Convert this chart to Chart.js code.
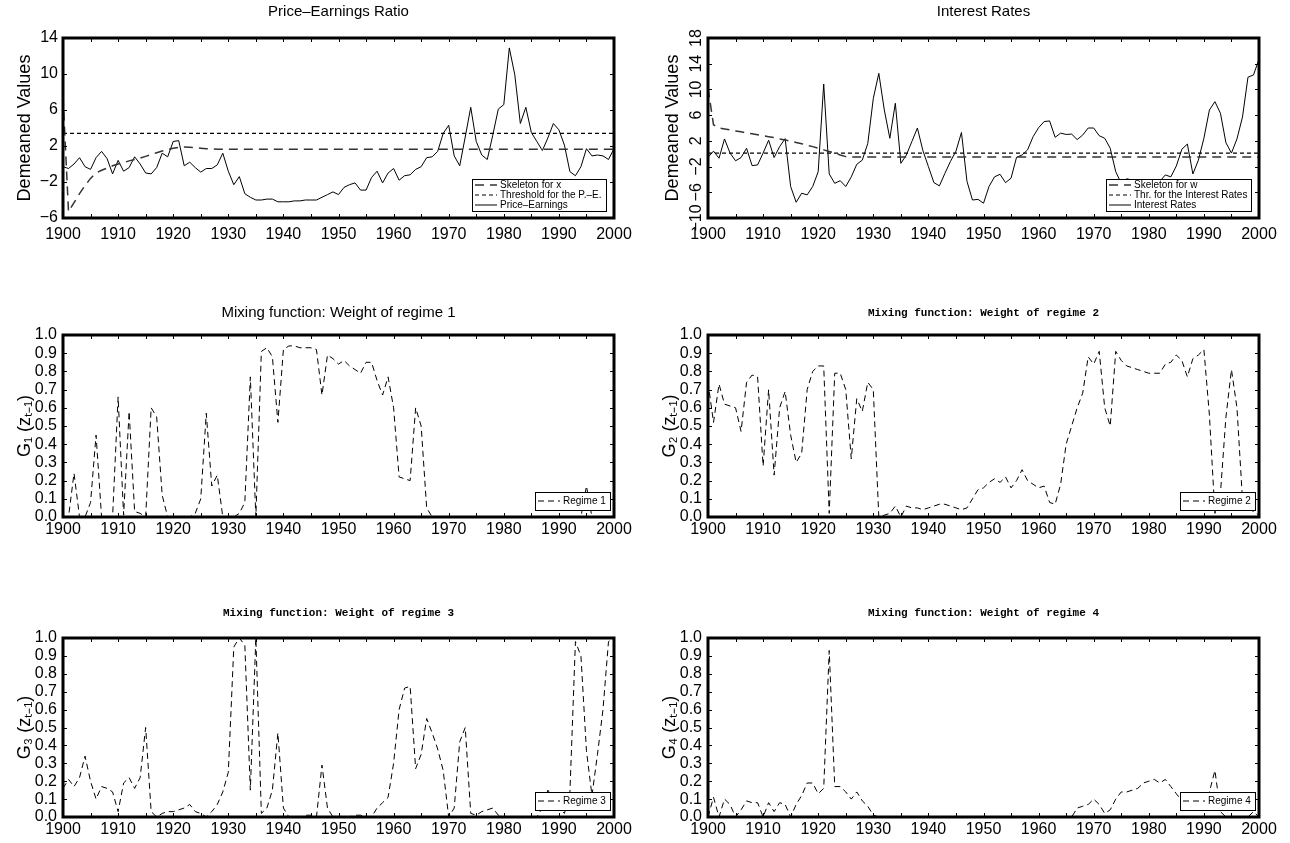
<!DOCTYPE html>
<html><head><meta charset="utf-8">
<script src="https://cdn.jsdelivr.net/npm/chart.js@4.4.0/dist/chart.umd.min.js"></script>
<style>
html,body{margin:0;padding:0;background:#fff;}
body{width:1290px;height:843px;position:relative;overflow:hidden;}
canvas{position:absolute;}
</style></head><body>
<canvas id="c1" width="645" height="260" style="left:0;top:0"></canvas>
<canvas id="c2" width="645" height="260" style="left:645px;top:0"></canvas>
<canvas id="c3" width="645" height="260" style="left:0;top:290px"></canvas>
<canvas id="c4" width="645" height="260" style="left:645px;top:290px"></canvas>
<canvas id="c5" width="645" height="253" style="left:0;top:590px"></canvas>
<canvas id="c6" width="645" height="253" style="left:645px;top:590px"></canvas>
<script>
// ---------- DATA ----------
const YEARS = [
1900,1901,1902,1903,1904,1905,1906,1907,1908,1909,
1910,1911,1912,1913,1914,1915,1916,1917,1918,1919,
1920,1921,1922,1923,1924,1925,1926,1927,1928,1929,
1930,1931,1932,1933,1934,1935,1936,1937,1938,1939,
1940,1941,1942,1943,1944,1945,1946,1947,1948,1949,
1950,1951,1952,1953,1954,1955,1956,1957,1958,1959,
1960,1961,1962,1963,1964,1965,1966,1967,1968,1969,
1970,1971,1972,1973,1974,1975,1976,1977,1978,1979,
1980,1981,1982,1983,1984,1985,1986,1987,1988,1989,
1990,1991,1992,1993,1994,1995,1996,1997,1998,1999,
2000];
const X_TICKS = [1900,1910,1920,1930,1940,1950,1960,1970,1980,1990,2000];

const PE = [
-0.3,-0.5,0.0,0.7,-0.3,-0.6,0.7,1.4,0.6,-1.1,
0.4,-0.8,-0.4,0.8,0.0,-1.0,-1.1,-0.4,1.2,0.8,
2.5,2.6,-0.2,0.2,-0.4,-0.9,-0.5,-0.5,-0.1,1.2,
-0.8,-2.3,-1.4,-3.3,-3.7,-4.0,-4.0,-3.9,-3.9,-4.2,
-4.2,-4.2,-4.1,-4.1,-4.0,-4.0,-4.0,-3.7,-3.4,-3.1,
-3.4,-2.6,-2.3,-2.1,-2.9,-2.9,-1.5,-0.8,-2.1,-1.0,
-0.5,-1.8,-1.3,-1.2,-0.6,-0.3,0.7,0.8,1.4,3.4,
4.3,0.9,-0.2,3.0,6.3,2.5,1.0,0.5,3.2,6.1,
6.6,12.9,9.9,4.5,6.3,3.5,2.5,1.5,2.9,4.5,
3.8,2.1,-0.85,-1.3,-0.3,1.7,0.9,1.0,0.9,0.5,
1.7];
const PE_SKELETON = [
7.5,-5.3,-4.3,-3.3,-2.4,-1.6,-1.0,-0.7,-0.45,-0.2,
0.0,0.15,0.35,0.5,0.65,0.85,1.05,1.25,1.45,1.6,
1.75,1.85,1.9,1.85,1.8,1.75,1.7,1.68,1.65,1.65,
1.65,1.65,1.65,1.65,1.65,1.65,1.65,1.65,1.65,1.65,
1.65,1.65,1.65,1.65,1.65,1.65,1.65,1.65,1.65,1.65,
1.65,1.65,1.65,1.65,1.65,1.65,1.65,1.65,1.65,1.65,
1.65,1.65,1.65,1.65,1.65,1.65,1.65,1.65,1.65,1.65,
1.65,1.65,1.65,1.65,1.65,1.65,1.65,1.65,1.65,1.65,
1.65,1.65,1.65,1.65,1.65,1.65,1.65,1.65,1.65,1.65,
1.65,1.65,1.65,1.65,1.65,1.65,1.65,1.65,1.65,1.65,
1.65];
const PE_THRESHOLD = 3.4;

const IR = [
-0.55,0.4,-0.7,2.3,0.1,-1.1,-0.6,0.85,-1.85,-1.75,
0.1,2.1,-0.6,1.1,2.35,-5.1,-7.55,-6.15,-6.4,-5.1,
-2.8,10.85,-3.15,-4.6,-4.2,-5.1,-3.6,-1.65,-1.0,1.6,
8.6,12.5,6.8,2.4,7.85,-1.5,-0.2,1.9,4.0,0.5,
-2.0,-4.5,-5.0,-3.05,-1.2,0.4,3.3,-4.3,-7.2,-7.1,
-7.7,-5.1,-3.6,-3.2,-4.5,-3.8,-0.55,-0.2,0.6,2.65,
4.05,5.0,5.1,2.55,3.2,3.0,3.05,2.2,2.9,4.0,
4.0,2.8,2.4,0.85,-2.8,-4.6,-3.9,-4.1,-4.4,-4.8,
-5.0,-4.7,-4.3,-3.3,-3.6,-1.9,0.7,1.5,-3.15,-1.0,
2.4,6.8,8.1,6.3,1.7,0.1,2.3,5.7,11.9,12.25,
14.7];
const IR_SKELETON = [
10.2,4.5,4.0,3.85,3.7,3.55,3.4,3.25,3.1,2.95,
2.8,2.65,2.5,2.3,2.15,1.95,1.75,1.55,1.3,1.1,
0.85,0.6,0.35,0.1,-0.2,-0.45,-0.5,-0.5,-0.5,-0.5,
-0.5,-0.5,-0.5,-0.5,-0.5,-0.5,-0.5,-0.5,-0.5,-0.5,
-0.5,-0.5,-0.5,-0.5,-0.5,-0.5,-0.5,-0.5,-0.5,-0.5,
-0.5,-0.5,-0.5,-0.5,-0.5,-0.5,-0.5,-0.5,-0.5,-0.5,
-0.5,-0.5,-0.5,-0.5,-0.5,-0.5,-0.5,-0.5,-0.5,-0.5,
-0.5,-0.5,-0.5,-0.5,-0.5,-0.5,-0.5,-0.5,-0.5,-0.5,
-0.5,-0.5,-0.5,-0.5,-0.5,-0.5,-0.5,-0.5,-0.5,-0.5,
-0.5,-0.5,-0.5,-0.5,-0.5,-0.5,-0.5,-0.5,-0.5,-0.5,
-0.5];
const IR_THRESHOLD = 0.1;

const G1 = [
0,0,0.24,0,0,0.08,0.45,0,0,0,
0.66,0.01,0.58,0.03,0.02,0,0.6,0.55,0.12,0,
0,0,0,0,0.02,0.1,0.57,0.17,0.23,0,
0,0,0.02,0.08,0.77,0,0.91,0.93,0.88,0.52,
0.92,0.94,0.94,0.93,0.93,0.93,0.92,0.67,0.89,0.87,
0.84,0.86,0.83,0.81,0.79,0.85,0.85,0.75,0.67,0.77,
0.6,0.22,0.21,0.2,0.6,0.5,0.05,0,0,0,
0,0,0,0,0,0,0,0,0,0,
0,0,0,0,0,0,0,0,0,0,
0,0,0,0,0,0.17,0,0,0,0,
0];
const G2 = [
0.74,0.52,0.73,0.62,0.61,0.6,0.47,0.74,0.78,0.77,
0.28,0.7,0.23,0.6,0.69,0.45,0.3,0.35,0.7,0.8,
0.83,0.83,0.02,0.79,0.79,0.7,0.32,0.65,0.58,0.74,
0.7,0.0,0.01,0.02,0.06,0.0,0.06,0.05,0.05,0.04,
0.05,0.06,0.07,0.07,0.06,0.05,0.04,0.05,0.1,0.15,
0.16,0.19,0.21,0.19,0.22,0.16,0.2,0.26,0.2,0.18,
0.16,0.17,0.08,0.07,0.18,0.4,0.5,0.6,0.68,0.88,
0.84,0.91,0.6,0.5,0.91,0.86,0.83,0.82,0.81,0.8,
0.79,0.79,0.79,0.84,0.85,0.89,0.86,0.77,0.87,0.89,
0.92,0.56,0.02,0.13,0.55,0.81,0.6,0.1,0.05,0.03,
0.01];
const G3 = [
0.16,0.21,0.17,0.22,0.34,0.2,0.1,0.17,0.16,0.14,
0.03,0.19,0.22,0.16,0.22,0.5,0.03,0.0,0.02,0.03,
0.03,0.04,0.05,0.07,0.03,0.02,0.0,0.03,0.07,0.14,
0.25,0.95,1.0,0.96,0.15,1.0,0.02,0.05,0.15,0.47,
0.05,0,0,0,0.01,0.01,0,0.29,0.05,0,
0,0,0,0.01,0.01,0,0,0.05,0.08,0.11,
0.3,0.6,0.72,0.73,0.27,0.35,0.55,0.47,0.38,0.26,
0,0.05,0.42,0.5,0.02,0.01,0.03,0.04,0.05,0.01,
0,0,0,0,0,0,0,0.05,0.15,0.1,
0.05,0.02,0.14,0.98,0.9,0.37,0.12,0.35,0.6,0.98,
1.0];
const G4 = [
0,0.11,0,0.1,0.07,0,0.04,0.09,0.08,0.08,
0,0.08,0.03,0.08,0.07,0,0.07,0.12,0.19,0.19,
0.13,0.16,0.93,0.17,0.17,0.14,0.1,0.14,0.09,0.06,
0.01,0,0,0,0,0,0,0,0,0,
0,0,0,0,0,0,0,0,0,0,
0,0,0,0,0,0,0,0,0,0,
0,0,0,0,0,0,0,0.05,0.06,0.07,
0.1,0.07,0.02,0.04,0.1,0.14,0.14,0.15,0.16,0.19,
0.2,0.21,0.19,0.21,0.17,0.13,0.09,0.07,0.06,0.08,
0.12,0.14,0.26,0.03,0,0,0,0,0,0.03,
0];

// ---------- STYLE / RENDER ----------
const SANS = '"Liberation Sans", Arial, Helvetica, sans-serif';
const MONO = '"Liberation Mono", "DejaVu Sans Mono", monospace';
Chart.defaults.font.family = SANS;
Chart.defaults.color = '#000';

const framePlugin = {
  id: 'panelFrame',
  afterDraw(chart, args, o) {
    const {ctx, chartArea: a} = chart;
    const xs = chart.scales.x, ys = chart.scales.y;
    ctx.save();
    // inward tick marks
    ctx.strokeStyle = '#000'; ctx.lineWidth = 1; ctx.setLineDash([]);
    ctx.beginPath();
    for (let v = xs.min; v <= xs.max + 1e-9; v += o.xMinor) {
      const px = Math.round(xs.getPixelForValue(v)) + 0.5;
      ctx.moveTo(px, a.bottom); ctx.lineTo(px, a.bottom - o.tick);
      ctx.moveTo(px, a.top); ctx.lineTo(px, a.top + o.tick);
    }
    ys.ticks.forEach(t => {
      const py = Math.round(ys.getPixelForValue(t.value)) + 0.5;
      ctx.moveTo(a.left, py); ctx.lineTo(a.left + o.tick, py);
      ctx.moveTo(a.right, py); ctx.lineTo(a.right - o.tick, py);
    });
    ctx.stroke();
    // frame
    ctx.lineWidth = 3;
    ctx.strokeRect(a.left, a.top, a.width, a.height);
    // title centred on plot area
    ctx.fillStyle = '#000';
    ctx.font = o.titleFont;
    ctx.textAlign = 'center'; ctx.textBaseline = 'middle';
    ctx.fillText(o.title, (a.left + a.right) / 2, o.titleY);
    // legend box inside plot area
    const items = chart.data.datasets;
    ctx.font = '10px ' + SANS;
    const textW = Math.max(...items.map(d => ctx.measureText(d.label).width));
    const sample = 22;
    const w = Math.round(3 + sample + 3 + textW + 4);
    const h = items.length * o.rowH + 2 * o.padV;
    const bx = Math.round(a.right - o.legRight - w), by = Math.round(a.bottom - 7 - h);
    ctx.fillStyle = '#fff'; ctx.fillRect(bx, by, w, h);
    ctx.strokeStyle = '#000'; ctx.lineWidth = 1;
    ctx.strokeRect(bx + 0.5, by + 0.5, w, h);
    items.forEach((d, i) => {
      const cy = by + o.padV + o.rowH * (i + 0.5);
      ctx.setLineDash(d.borderDash || []);
      ctx.strokeStyle = d.borderColor; ctx.lineWidth = d.borderWidth;
      ctx.beginPath(); ctx.moveTo(bx + 3, cy); ctx.lineTo(bx + 3 + sample, cy); ctx.stroke();
      ctx.setLineDash([]);
      ctx.fillStyle = '#000'; ctx.textAlign = 'left'; ctx.textBaseline = 'middle';
      ctx.fillText(d.label, bx + 3 + sample + 3, cy + 0.5);
    });
    ctx.restore();
  }
};
Chart.register(framePlugin);

function series(values) { return YEARS.map((yr, i) => ({x: yr, y: values[i]})); }
function constant(v) { return [{x: YEARS[0], y: v}, {x: YEARS[YEARS.length - 1], y: v}]; }
const minus = v => String(v).replace('-', '\u2212');

function makePanel(p) {
  new Chart(document.getElementById(p.id), {
    type: 'line',
    data: { datasets: p.datasets.map(d => Object.assign({
      pointRadius: 0, fill: false, tension: 0, borderColor: '#000', borderWidth: 1, borderDash: []
    }, d)) },
    options: {
      responsive: false, animation: false, events: [],
      layout: { padding: { left: 0, right: 31, top: p.top, bottom: p.padB } },
      plugins: {
        legend: { display: false }, tooltip: { enabled: false }, title: { display: false },
        panelFrame: { title: p.title, titleFont: p.titleFont, titleY: p.titleY, xMinor: 5, tick: 4,
                      rowH: 10, padV: p.legendPadV, legRight: p.legRight }
      },
      scales: {
        x: {
          type: 'linear', min: 1900, max: 2000,
          grid: { display: false, drawTicks: false }, border: { display: false },
          afterBuildTicks: s => { s.ticks = X_TICKS.map(v => ({ value: v })); },
          ticks: { callback: v => String(v), font: { size: 16 }, color: '#000', padding: p.xPad,
                   maxRotation: 0, autoSkip: false },
          afterFit: s => { s.height = p.xH; }
        },
        y: {
          min: p.yMin, max: p.yMax,
          grid: { display: false, drawTicks: false }, border: { display: false },
          ticks: Object.assign({ stepSize: p.yStep, callback: p.yFmt, font: { size: 16 }, color: '#000',
                   padding: p.yPad, autoSkip: false }, p.yTickExtra || {}),
          title: { display: true, text: p.yTitle, font: { size: 18 }, color: '#000',
                   padding: { top: p.yTitlePad, bottom: 0 } },
          afterFit: s => { s.width = 63; }
        }
      }
    }
  });
}

const SKEL = { borderDash: [9, 6], borderColor: '#333', borderWidth: 1.5 };
const THR = { borderDash: [4, 3], borderColor: '#000', borderWidth: 1.2 };
const GDASH = { borderDash: [6, 4], borderColor: '#000', borderWidth: 1 };
const gFmt = v => Number(v).toFixed(1);
const TOP = { top: 38, padB: 12, xH: 30, xPad: 7, titleY: 12, legendPadV: 1, legRight: 8 };
const MID = { top: 45, padB: 13, xH: 20, xPad: 3, titleY: 23, legendPadV: 4, legRight: 4 };
const BOT = { top: 48, padB: 6, xH: 20, xPad: 3, titleY: 23, legendPadV: 4, legRight: 4 };
const G_AXIS = { yMin: 0, yMax: 1, yStep: 0.1, yFmt: gFmt, yPad: 6, yTitlePad: 14 };

makePanel(Object.assign({}, TOP, {
  id: 'c1', title: 'Price\u2013Earnings Ratio', titleFont: '15px ' + SANS,
  yMin: -6, yMax: 14, yStep: 4, yFmt: minus, yPad: 5, yTitle: 'Demeaned Values', yTitlePad: 14,
  datasets: [
    Object.assign({ label: 'Skeleton for x', data: series(PE_SKELETON) }, SKEL),
    Object.assign({ label: 'Threshold for the P.\u2013E.', data: constant(PE_THRESHOLD) }, THR),
    { label: 'Price\u2013Earnings', data: series(PE) }
  ]
}));
makePanel(Object.assign({}, TOP, {
  id: 'c2', title: 'Interest Rates', titleFont: '15px ' + SANS,
  yMin: -10, yMax: 18, yStep: 4, yFmt: minus, yPad: -2, yTitle: 'Demeaned Values', yTitlePad: 17,
  yTickExtra: { minRotation: 90, maxRotation: 90, crossAlign: 'center' },
  datasets: [
    Object.assign({ label: 'Skeleton for w', data: series(IR_SKELETON) }, SKEL),
    Object.assign({ label: 'Thr. for the Interest Rates', data: constant(IR_THRESHOLD) }, THR),
    { label: 'Interest Rates', data: series(IR) }
  ]
}));
makePanel(Object.assign({}, MID, G_AXIS, {
  id: 'c3', title: 'Mixing function: Weight of regime 1', titleFont: '15px ' + SANS,
  yTitle: 'G\u2081 (z\u209C\u208B\u2081)',
  datasets: [ Object.assign({ label: 'Regime 1', data: series(G1) }, GDASH) ]
}));
makePanel(Object.assign({}, MID, G_AXIS, {
  id: 'c4', title: 'Mixing function: Weight of regime 2', titleFont: 'bold 11px ' + MONO,
  yTitle: 'G\u2082 (z\u209C\u208B\u2081)',
  datasets: [ Object.assign({ label: 'Regime 2', data: series(G2) }, GDASH) ]
}));
makePanel(Object.assign({}, BOT, G_AXIS, {
  id: 'c5', title: 'Mixing function: Weight of regime 3', titleFont: 'bold 11px ' + MONO,
  yTitle: 'G\u2083 (z\u209C\u208B\u2081)',
  datasets: [ Object.assign({ label: 'Regime 3', data: series(G3) }, GDASH) ]
}));
makePanel(Object.assign({}, BOT, G_AXIS, {
  id: 'c6', title: 'Mixing function: Weight of regime 4', titleFont: 'bold 11px ' + MONO,
  yTitle: 'G\u2084 (z\u209C\u208B\u2081)',
  datasets: [ Object.assign({ label: 'Regime 4', data: series(G4) }, GDASH) ]
}));
</script>
</body></html>
